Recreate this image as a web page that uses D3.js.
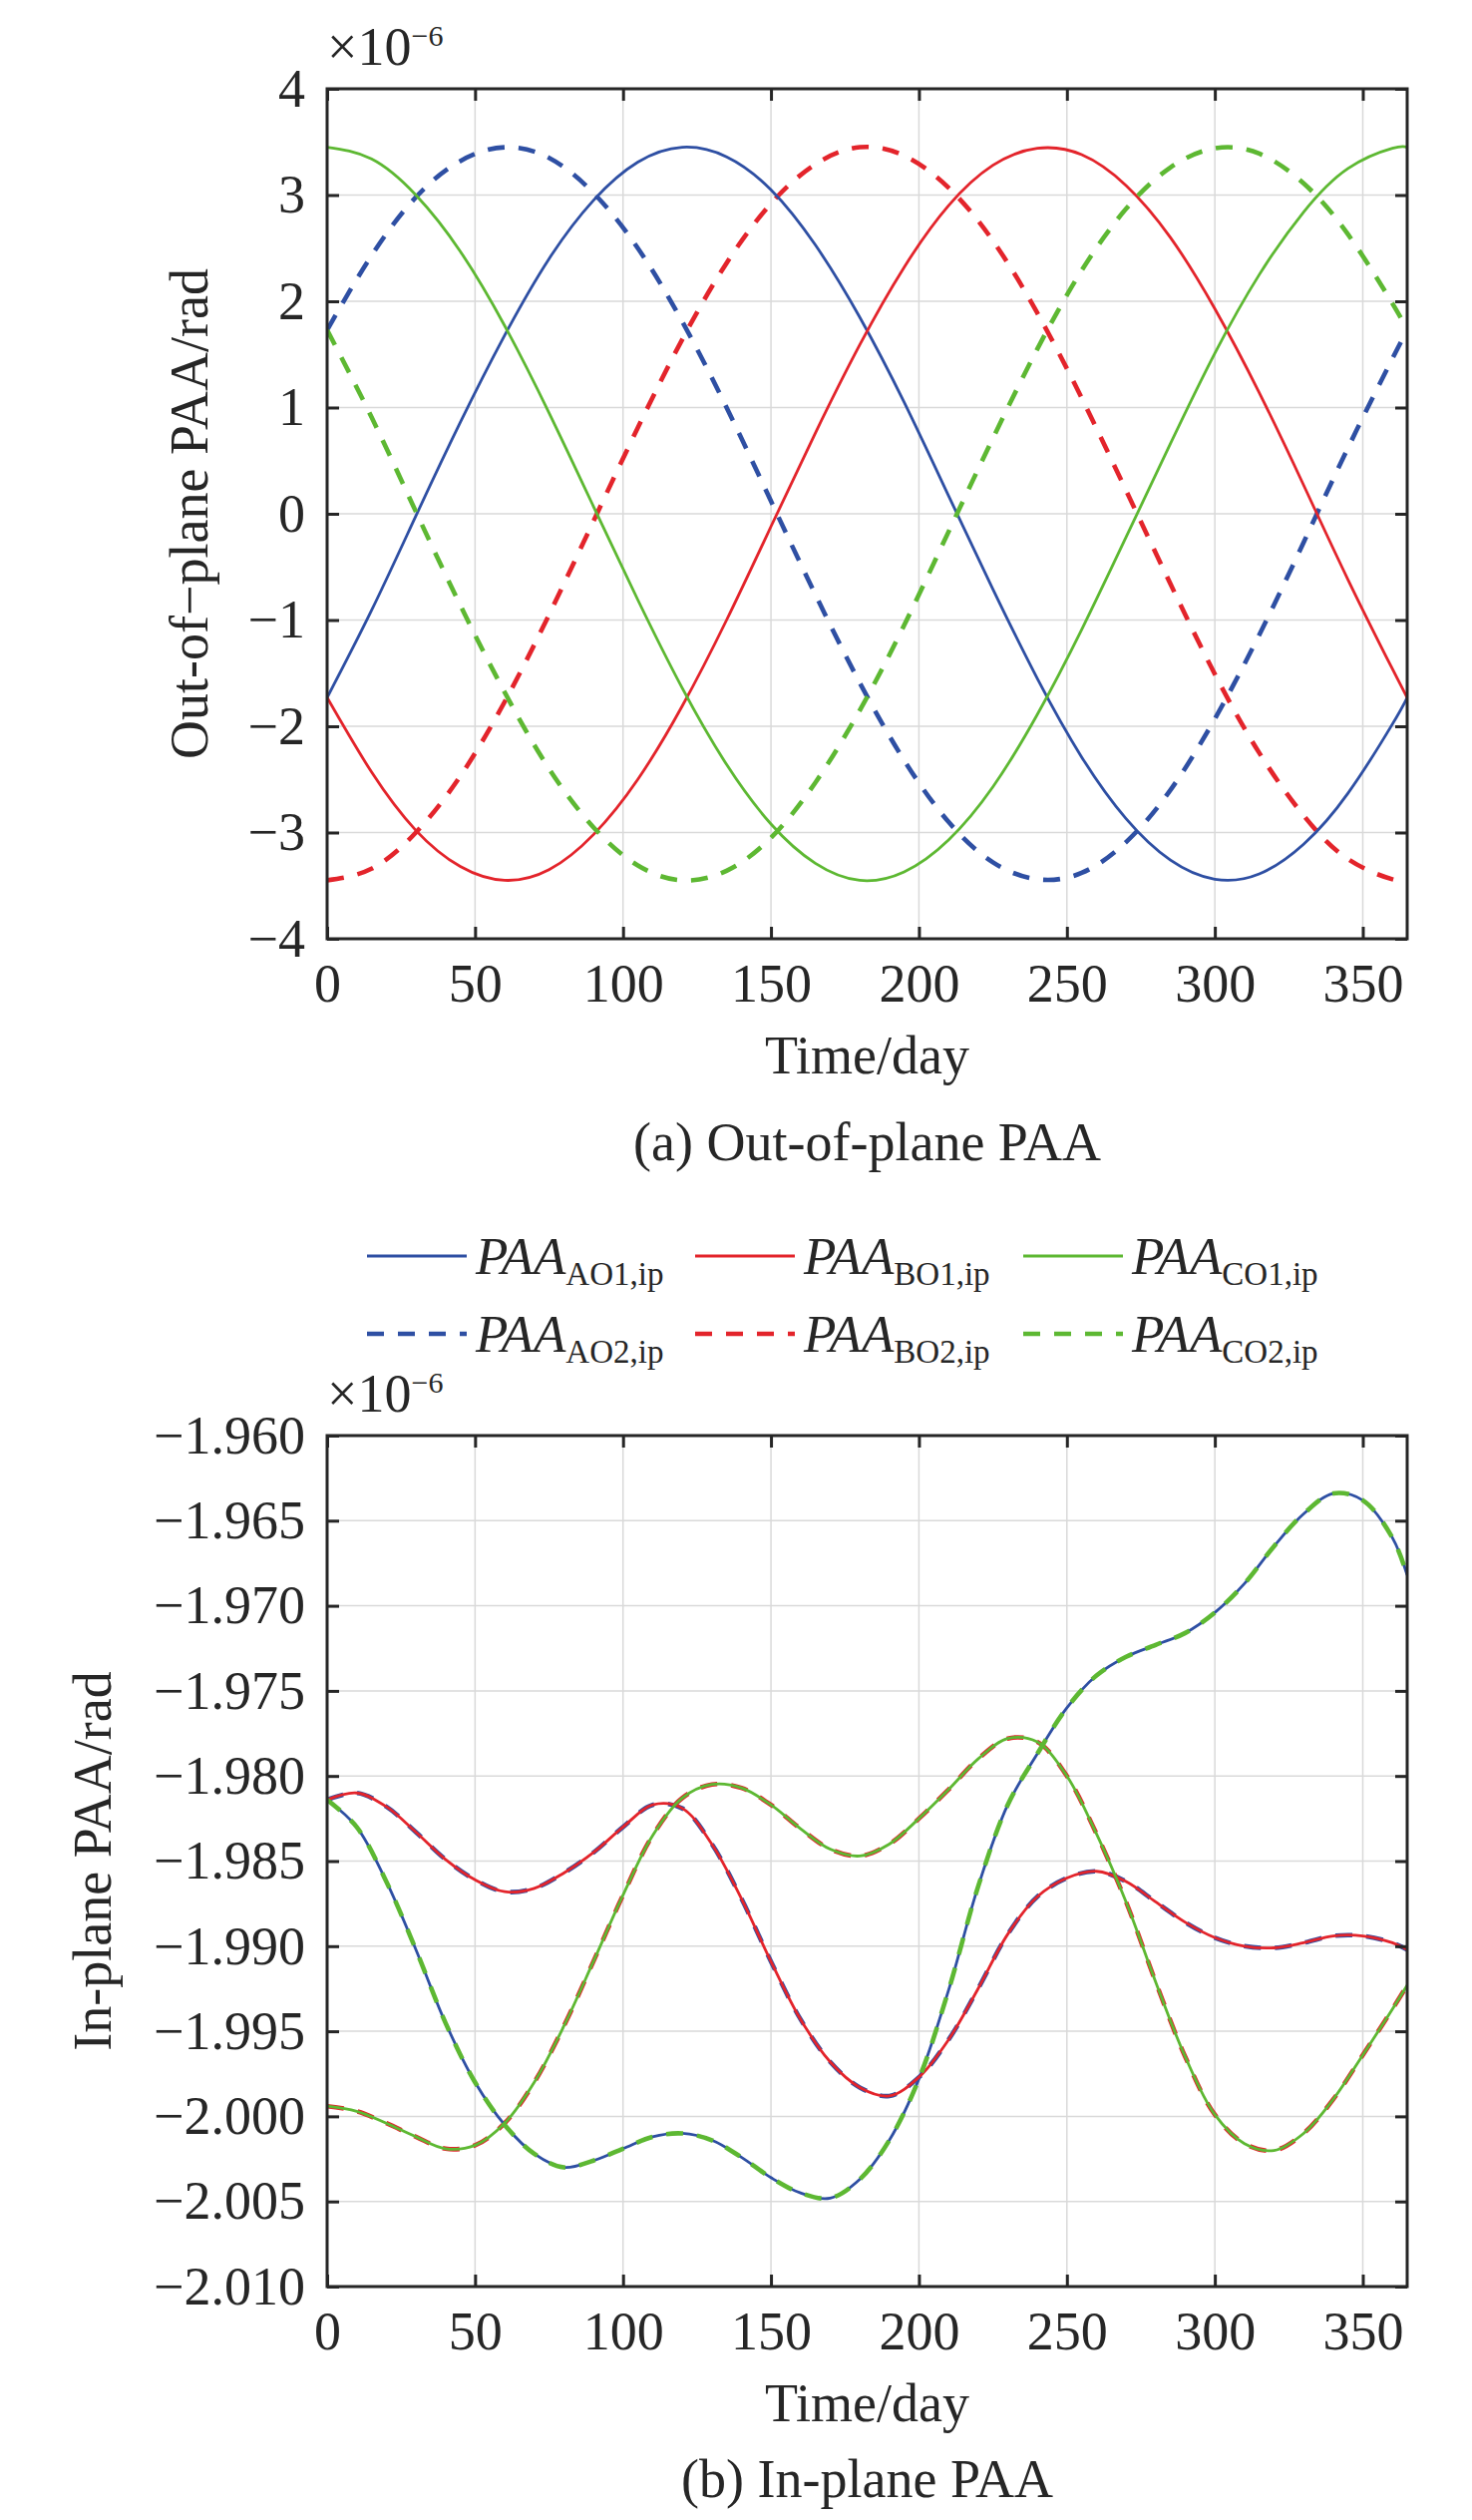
<!DOCTYPE html>
<html>
<head>
<meta charset="utf-8">
<script src="https://cdn.jsdelivr.net/npm/d3@7"></script>
<style>
  body { margin: 0; background: #fff; }
  text { font-family: "Liberation Serif", "Times New Roman", serif; fill: #262626; }
</style>
</head>
<body>
<svg id="fig" width="1476" height="2526"></svg>
<script>
// ---- data: out-of-plane PAA (x1e-6 rad)
var otDays = [0, 15, 30, 45, 60, 75, 90, 105, 120, 135, 150, 165, 180,
              195, 210, 225, 240, 255, 270, 285, 300, 315, 330, 345, 360, 365];
var otAO1 = [-1.73, -0.91, -0.02, 0.86, 1.68, 2.40, 2.95, 3.31, 3.45, 3.36, 3.05, 2.53, 1.85,
             1.05, 0.17, -0.71, -1.55, -2.29, -2.87, -3.26, -3.44, -3.39, -3.11, -2.63, -1.98, -1.73];
var otBO1 = [-1.73, -2.43, -2.98, -3.32, -3.45, -3.35, -3.02, -2.50, -1.81, -1.00, -0.12, 0.76, 1.59,
             2.32, 2.90, 3.28, 3.44, 3.38, 3.09, 2.60, 1.93, 1.14, 0.27, -0.62, -1.46, -1.73];
var otCO1 = [3.45, 3.34, 3.00, 2.47, 1.77, 0.95, 0.07, -0.81, -1.64, -2.36, -2.92, -3.29, -3.45,
             -3.37, -3.07, -2.57, -1.89, -1.09, -0.22, 0.66, 1.51, 2.25, 2.84, 3.25, 3.44, 3.45];
var otAO2 = [1.73, 2.43, 2.98, 3.32, 3.45, 3.35, 3.02, 2.50, 1.81, 1.00, 0.12, -0.76, -1.59,
             -2.32, -2.90, -3.28, -3.44, -3.38, -3.09, -2.60, -1.93, -1.14, -0.27, 0.62, 1.46, 1.73];
var otBO2 = [-3.45, -3.34, -3.00, -2.47, -1.77, -0.95, -0.07, 0.81, 1.64, 2.36, 2.92, 3.29, 3.45,
             3.37, 3.07, 2.57, 1.89, 1.09, 0.22, -0.66, -1.51, -2.25, -2.84, -3.25, -3.44, -3.45];
var otCO2 = [1.73, 0.91, 0.02, -0.86, -1.68, -2.40, -2.95, -3.31, -3.45, -3.36, -3.05, -2.53, -1.85,
             -1.05, -0.17, 0.71, 1.55, 2.29, 2.87, 3.26, 3.44, 3.39, 3.11, 2.63, 1.98, 1.73];

// ---- data: in-plane PAA (x1e-6 rad)
var ipDays = [0, 10, 20, 30, 40, 50, 60, 70, 80, 90, 100, 110, 120, 130, 140, 150, 160, 170, 180,
              190, 200, 210, 220, 230, 240, 250, 260, 270, 280, 290, 300, 310, 320, 330, 340, 350, 360, 365];
var ipAO1 = [-1.9814, -1.9830, -1.9862, -1.9902, -1.9945, -1.9980, -2.0005, -2.0022, -2.0030, -2.0026,
             -2.0019, -2.0012, -2.0010, -2.0014, -2.0024, -2.0036, -2.0045, -2.0048, -2.0037,
             -2.0014, -1.9978, -1.9926, -1.9865, -1.9817, -1.9787, -1.9760, -1.9741, -1.9730,
             -1.9723, -1.9716, -1.9704, -1.9687, -1.9665, -1.9646, -1.9634, -1.9638, -1.9660, -1.9682];
var ipBO1 = [-1.9814, -1.9810, -1.9818, -1.9833, -1.9849, -1.9861, -1.9868, -1.9866, -1.9857, -1.9845,
             -1.9830, -1.9817, -1.9819, -1.9840, -1.9872, -1.9909, -1.9943, -1.9968, -1.9983,
             -1.9988, -1.9977, -1.9955, -1.9925, -1.9893, -1.9871, -1.9860, -1.9856, -1.9862,
             -1.9874, -1.9886, -1.9895, -1.9900, -1.9901, -1.9898, -1.9894, -1.9894, -1.9898, -1.9902];
var ipCO1 = [-1.9994, -1.9997, -2.0004, -2.0012, -2.0019, -2.0017, -2.0004, -1.9980, -1.9947, -1.9909,
             -1.9870, -1.9835, -1.9813, -1.9805, -1.9807, -1.9817, -1.9831, -1.9843, -1.9847,
             -1.9840, -1.9825, -1.9808, -1.9790, -1.9778, -1.9780, -1.9800, -1.9834, -1.9874,
             -1.9921, -1.9965, -1.9999, -2.0016, -2.0020, -2.0010, -1.9990, -1.9964, -1.9937, -1.9923];
// second-station curves sit right on top of the first-station ones
var ipAO2 = ipBO1.slice();
var ipBO2 = ipCO1.slice();
var ipCO2 = ipAO1.slice();

var xTicks = [0, 50, 100, 150, 200, 250, 300, 350];
var otTicks = [-4, -3, -2, -1, 0, 1, 2, 3, 4];
var ipTicks = [-2.010, -2.005, -2.000, -1.995, -1.990, -1.985, -1.980, -1.975, -1.970, -1.965, -1.960];

var legendKeys = ["AO1", "BO1", "CO1", "AO2", "BO2", "CO2"];

var colors = {A: "#2e4fa3", B: "#e3242b", C: "#5db832"};
var minus = function(s) { return s.replace("-", "\u2212"); };

var svg = d3.select("#fig");
svg.append("rect").attr("width", 1476).attr("height", 2526).attr("fill", "#fff");

var L = 328, R = 1411;
var x = d3.scaleLinear().domain([0, 365]).range([L, R]);

function series(days, vals, key) {
  return {
    key: key,
    pts: days.map(function(d, i) { return [d, vals[i]]; }),
    color: colors[key[0]],
    dashed: key[2] === "2"
  };
}

function drawPanel(p) {
  var g = svg.append("g");
  var y = d3.scaleLinear().domain([p.ticks[0], p.ticks[p.ticks.length - 1]]).range([p.bottom, p.top]);

  // grid
  g.selectAll(".vg").data(xTicks).enter().append("line")
    .attr("x1", x).attr("x2", x).attr("y1", p.top).attr("y2", p.bottom)
    .attr("stroke", "#d9d9d9").attr("stroke-width", 1.5);
  g.selectAll(".hg").data(p.ticks).enter().append("line")
    .attr("y1", y).attr("y2", y).attr("x1", L).attr("x2", R)
    .attr("stroke", "#d9d9d9").attr("stroke-width", 1.5);

  // curves
  var clip = "clip" + p.id;
  svg.append("clipPath").attr("id", clip).append("rect")
    .attr("x", L).attr("y", p.top).attr("width", R - L).attr("height", p.bottom - p.top);
  var line = d3.line().curve(p.curve)
    .x(function(d) { return x(d[0]); })
    .y(function(d) { return y(d[1]); });
  g.append("g").attr("clip-path", "url(#" + clip + ")")
    .selectAll("path").data(p.series).enter().append("path")
      .attr("d", function(d) { return line(d.pts); })
      .attr("fill", "none")
      .attr("stroke", function(d) { return d.color; })
      .attr("stroke-width", function(d) { return d.dashed ? 4.6 : 2.8; })
      .attr("stroke-dasharray", function(d) { return d.dashed ? "17,14" : null; });

  // axes, ticks inside on all four sides
  var axB = g.append("g").attr("transform", "translate(0," + p.bottom + ")")
    .call(d3.axisBottom(x).tickValues(xTicks).tickSize(-12).tickPadding(25));
  var axT = g.append("g").attr("transform", "translate(0," + p.top + ")")
    .call(d3.axisTop(x).tickValues(xTicks).tickSize(-12).tickFormat(""));
  var axL = g.append("g").attr("transform", "translate(" + L + ",0)")
    .call(d3.axisLeft(y).tickValues(p.ticks).tickSize(-12).tickPadding(22)
      .tickFormat(function(d) { return minus(p.fmt(d)); }));
  var axR = g.append("g").attr("transform", "translate(" + R + ",0)")
    .call(d3.axisRight(y).tickValues(p.ticks).tickSize(-12).tickFormat(""));
  [axB, axT, axL, axR].forEach(function(a) {
    a.select(".domain").remove();
    a.selectAll("line").attr("stroke", "#262626").attr("stroke-width", 3);
    a.selectAll("text").attr("font-size", 54).attr("fill", "#262626")
      .style("font-family", '"Liberation Serif", "Times New Roman", serif');
  });
  g.append("rect").attr("x", L).attr("y", p.top).attr("width", R - L).attr("height", p.bottom - p.top)
    .attr("fill", "none").attr("stroke", "#262626").attr("stroke-width", 3);

  // exponent
  var ex = g.append("text").attr("x", L).attr("y", p.top - 24).attr("font-size", 54);
  ex.append("tspan").text("\u00d710");
  ex.append("tspan").attr("font-size", 30).attr("dy", -19).text("\u22126");

  // axis titles
  g.append("text").attr("x", (L + R) / 2).attr("y", p.bottom + 135)
    .attr("text-anchor", "middle").attr("font-size", 54).text("Time/day");
  g.append("text")
    .attr("transform", "translate(" + p.ylabX + "," + (p.top + p.bottom) / 2 + ") rotate(-90)")
    .attr("text-anchor", "middle").attr("font-size", 54).text(p.ylab);
  g.append("text").attr("x", (L + R) / 2).attr("y", p.captionY)
    .attr("text-anchor", "middle").attr("font-size", 54).text(p.caption);
}

var drawOrder = ["AO2", "BO2", "AO1", "BO1", "CO1", "CO2"];
var otData = {AO1: otAO1, BO1: otBO1, CO1: otCO1, AO2: otAO2, BO2: otBO2, CO2: otCO2};
var ipData = {AO1: ipAO1, BO1: ipBO1, CO1: ipCO1, AO2: ipAO2, BO2: ipBO2, CO2: ipCO2};

drawPanel({
  id: "a", top: 89, bottom: 941, ticks: otTicks, fmt: d3.format("d"),
  curve: d3.curveNatural,
  series: drawOrder.map(function(k) { return series(otDays, otData[k], k); }),
  ylab: "Out-of\u2212plane PAA/rad", ylabX: 208,
  caption: "(a) Out-of-plane PAA", captionY: 1163
});

drawPanel({
  id: "b", top: 1439, bottom: 2292, ticks: ipTicks, fmt: d3.format(".3f"),
  curve: d3.curveCatmullRom,
  series: drawOrder.map(function(k) { return series(ipDays, ipData[k], k); }),
  ylab: "In-plane PAA/rad", ylabX: 111,
  caption: "(b) In-plane PAA", captionY: 2503
});

// legend, three columns by two rows
var leg = svg.append("g");
var colX = [368, 697, 1026], rowY = [1259, 1337];
var items = leg.selectAll("g").data(legendKeys).enter().append("g")
  .attr("transform", function(d, i) {
    return "translate(" + colX[i % 3] + "," + rowY[Math.floor(i / 3)] + ")";
  });
items.append("line")
  .attr("x1", 0).attr("x2", 100).attr("y1", 0).attr("y2", 0)
  .attr("stroke", function(d) { return colors[d[0]]; })
  .attr("stroke-width", function(d) { return d[2] === "2" ? 4.6 : 2.8; })
  .attr("stroke-dasharray", function(d) { return d[2] === "2" ? "17,14" : null; });
var lt = items.append("text").attr("x", 109).attr("y", 18);
lt.append("tspan").attr("font-size", 53).attr("font-style", "italic").text("PAA");
lt.append("tspan").attr("font-size", 33).attr("dy", 11).text(function(d) { return d + ",ip"; });
</script>
</body>
</html>
